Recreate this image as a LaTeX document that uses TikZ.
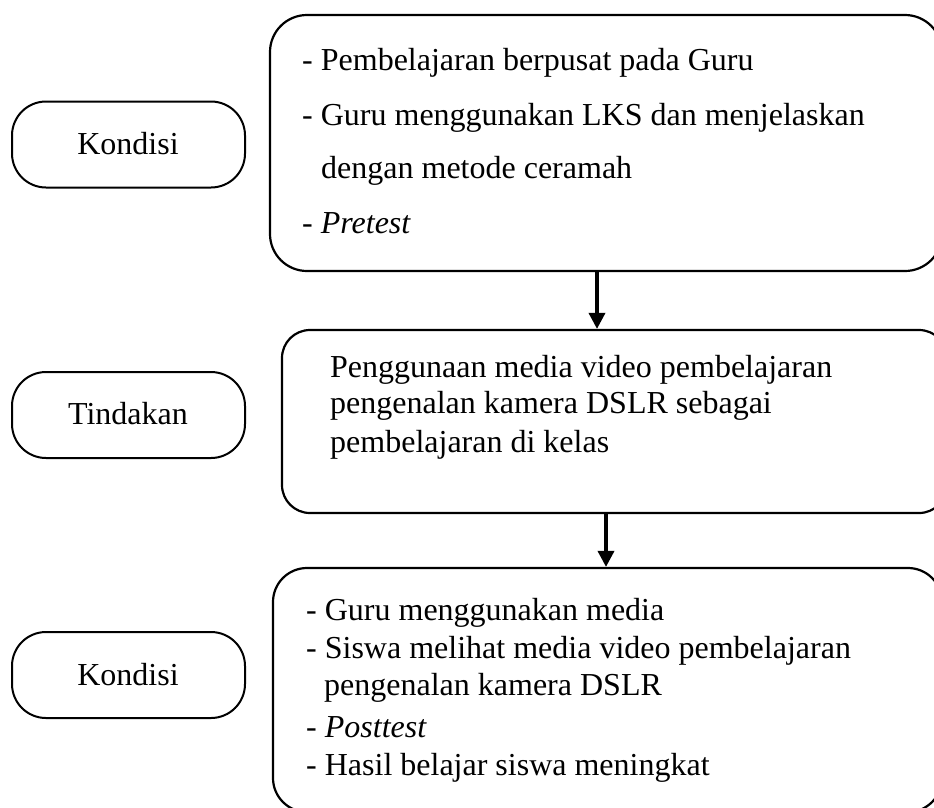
\documentclass[tikz,border=0pt]{standalone}
\usepackage{fontspec}
\setmainfont{Liberation Serif}
\usetikzlibrary{arrows.meta}
\begin{document}
\begin{tikzpicture}[x=1pt,y=-1pt,
  panel/.style={draw, line width=2.2pt, rounded corners=#1, inner sep=0pt},
  pill/.style={draw, line width=2pt, rounded corners=34pt, inner sep=0pt,
               minimum width=233pt, minimum height=86pt},
  txt/.style={anchor=base west, inner sep=0pt, font=\fontsize{32}{38}\selectfont},
  tag/.style={anchor=base, inner sep=0pt, font=\fontsize{32}{38}\selectfont},
  flowarrow/.style={line width=3.5pt, -{Triangle[width=16pt,length=16pt]}}]
\useasboundingbox (0,0) rectangle (934,807);
\clip (0,0) rectangle (934,807);

% stage labels on the left
\node[pill] (p1) at (128.5,144.5) {};
\node[pill] (p2) at (128.5,415) {};
\node[pill] (p3) at (128.5,675) {};
\node[tag] (k1) at (128,154) {Kondisi};
\node[tag] (k2) at (128,424) {Tindakan};
\node[tag] (k3) at (128,685) {Kondisi};

% description panels (running past the right edge)
\node[panel=37pt, minimum width=672pt, minimum height=256pt] (b1) at (606,143) {};
\node[panel=28pt, minimum width=665pt, minimum height=183pt] (b2) at (614.5,421.5) {};
\node[panel=34pt, minimum width=669pt, minimum height=244pt] (b3) at (607.5,690) {};

% panel texts
\node[txt] (b1t1) at (302,70) {- Pembelajaran berpusat pada Guru};
\node[txt] (b1t2) at (302,125) {- Guru menggunakan LKS dan menjelaskan};
\node[txt] (b1t3) at (321,178) {dengan metode ceramah};
\node[txt] (b1t4) at (302,233) {- \textit{Pretest}};

\node[txt] (b2t1) at (330,377) {Penggunaan media video pembelajaran};
\node[txt] (b2t2) at (330,413) {pengenalan kamera DSLR sebagai};
\node[txt] (b2t3) at (330,452) {pembelajaran di kelas};

\node[txt] (b3t1) at (306,620) {- Guru menggunakan media};
\node[txt] (b3t2) at (306,658) {- Siswa melihat media video pembelajaran};
\node[txt] (b3t3) at (324,695) {pengenalan kamera DSLR};
\node[txt] (b3t4) at (306,737) {- \textit{Posttest}};
\node[txt] (b3t5) at (306,775) {- Hasil belajar siswa meningkat};

% connectors between panels
\draw[flowarrow] ([xshift=-9pt]b1.south) -- ([xshift=-9pt]b1.south |- b2.north);
\draw[flowarrow] ([xshift=-8.5pt]b2.south) -- ([xshift=-8.5pt]b2.south |- b3.north);
\end{tikzpicture}
\end{document}
